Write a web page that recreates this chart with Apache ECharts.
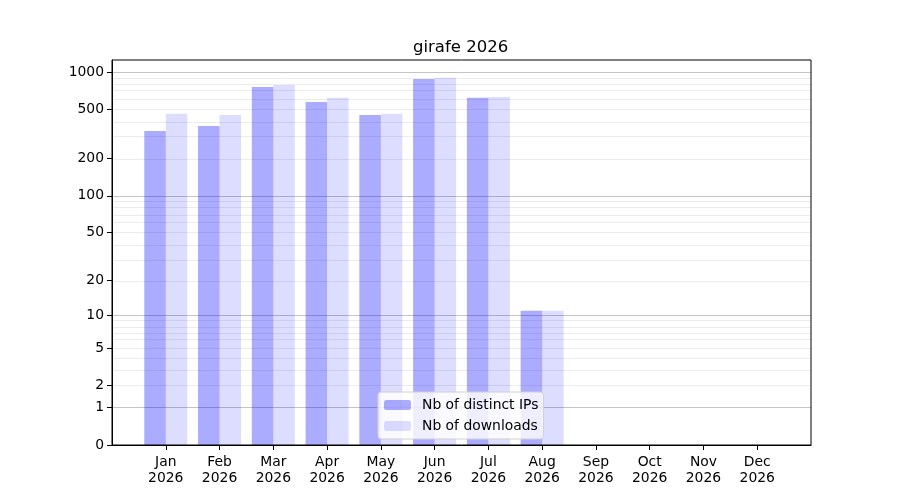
<!DOCTYPE html>
<html>
<head>
<meta charset="utf-8">
<title>girafe 2026</title>
<script src="https://cdn.jsdelivr.net/npm/echarts@6/dist/echarts.min.js"></script>
<style>
  html, body { margin: 0; padding: 0; background: #fff; }
  #main { width: 900px; height: 500px; }
</style>
</head>
<body>
<div id="main"></div>
<script>
var months = ['Jan', 'Feb', 'Mar', 'Apr', 'May', 'Jun', 'Jul', 'Aug', 'Sep', 'Oct', 'Nov', 'Dec'];
var year = '2026';
var distinctIps = [335, 367, 758, 574, 451, 879, 619, 11, 0, 0, 0, 0];
var downloads = [460, 451, 787, 619, 460, 897, 630, 11, 0, 0, 0, 0];
var yTicks = [0, 1, 2, 5, 10, 20, 50, 100, 200, 500, 1000];
var majorGrid = [1, 10, 100, 1000];
var minorGrid = [2, 3, 4, 5, 6, 7, 8, 9, 20, 30, 40, 50, 60, 70, 80, 90,
                 200, 300, 400, 500, 600, 700, 800, 900];

// the y scale is log10(1 + v), like the original picture
function fwd(v) { return Math.log10(1 + v); }
function back(t) { return Math.round(Math.pow(10, t) - 1); }

document.addEventListener('DOMContentLoaded', function() {
  var myChart = echarts.init(document.getElementById('main'));
  var font = 'DejaVu Sans';

  var xIdx = months.map(function(m, i) { return i; });
  var yPos = yTicks.map(fwd);

  var gridLines = [];
  minorGrid.forEach(function(v) {
    gridLines.push({ yAxis: fwd(v), lineStyle: { color: '#ececec', width: 1, type: 'solid' } });
  });
  majorGrid.forEach(function(v) {
    gridLines.push({ yAxis: fwd(v), lineStyle: { color: '#c4c4c4', width: 1, type: 'solid' } });
  });

  var option = {
    animation: false,
    textStyle: { fontFamily: font },
    title: {
      text: 'girafe ' + year,
      left: 408,
      top: 34,
      textStyle: { fontFamily: font, fontSize: 16.5, fontWeight: 'normal', color: '#000' }
    },
    legend: {
      data: ['Nb of distinct IPs', 'Nb of downloads'],
      orient: 'vertical',
      left: 378,
      top: 392,
      itemWidth: 27,
      itemHeight: 10,
      itemGap: 7,
      padding: [6, 5, 6, 6],
      backgroundColor: 'rgba(255,255,255,0.8)',
      borderColor: '#d0d0d0',
      borderWidth: 1,
      borderRadius: 3,
      textStyle: { fontFamily: font, fontSize: 13.9, color: '#000', padding: [0, 0, 0, 6] }
    },
    grid: {
      left: 112,
      right: 89,
      top: 60,
      bottom: 55,
      show: true,
      borderColor: '#000',
      borderWidth: 1,
      z: 10
    },
    xAxis: {
      type: 'value',
      min: -1,
      max: 12,
      interval: 1,
      splitLine: { show: false },
      axisLine: { show: true, onZero: false, lineStyle: { color: '#000' } },
      axisTick: {
        show: true,
        customValues: xIdx,
        length: 5,
        lineStyle: { color: '#000' }
      },
      axisLabel: {
        customValues: xIdx,
        margin: 9,
        fontFamily: font,
        fontSize: 13.9,
        lineHeight: 16,
        color: '#000',
        formatter: function(v) {
          var i = Math.round(v);
          return months[i] ? months[i] + '\n' + year : '';
        }
      }
    },
    yAxis: {
      type: 'value',
      min: 0,
      max: 3.097,
      splitLine: { show: false },
      axisLine: { show: true, onZero: false, lineStyle: { color: '#000' } },
      axisTick: {
        show: true,
        customValues: yPos,
        length: 5,
        lineStyle: { color: '#000' }
      },
      axisLabel: {
        customValues: yPos,
        margin: 8,
        fontFamily: font,
        fontSize: 13.9,
        color: '#000',
        formatter: function(v) { return String(back(v)); }
      }
    },
    series: [
      {
        name: 'grid',
        type: 'line',
        data: [],
        z: 1,
        silent: true,
        markLine: {
          silent: true,
          z: 0,
          symbol: 'none',
          label: { show: false },
          animation: false,
          data: gridLines
        }
      },
      {
        name: 'Nb of distinct IPs',
        type: 'bar',
        z: 2,
        barWidth: 21.5,
        barGap: '0%',
        itemStyle: { color: 'rgba(0,0,255,0.33)' },
        data: distinctIps.map(function(v, i) { return [i, fwd(v)]; })
      },
      {
        name: 'Nb of downloads',
        type: 'bar',
        z: 2,
        barWidth: 21.5,
        barGap: '0%',
        itemStyle: { color: 'rgba(0,0,255,0.135)' },
        data: downloads.map(function(v, i) { return [i, fwd(v)]; })
      }
    ]
  };

  myChart.setOption(option);
});
</script>
</body>
</html>
